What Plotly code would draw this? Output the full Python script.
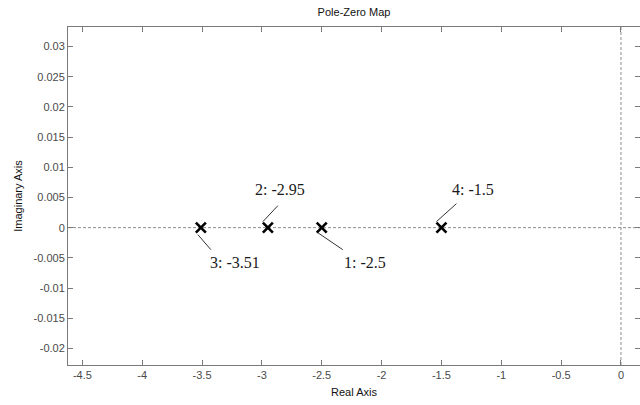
import plotly.graph_objects as go

# ---- data ----
pole_index = [1, 2, 3, 4]
pole_real = [-2.5, -2.95, -3.51, -1.5]
pole_imag = [0.0, 0.0, 0.0, 0.0]
x_tick_vals = [-4.5, -4, -3.5, -3, -2.5, -2, -1.5, -1, -0.5, 0]
x_tick_text = ["-4.5", "-4", "-3.5", "-3", "-2.5", "-2", "-1.5", "-1", "-0.5", "0"]
y_tick_vals = [0.03, 0.025, 0.02, 0.015, 0.01, 0.005, 0, -0.005, -0.01, -0.015, -0.02]
y_tick_text = ["0.03", "0.025", "0.02", "0.015", "0.01", "0.005", "0", "-0.005", "-0.01", "-0.015", "-0.02"]
x_range = [-4.62, 0.159]
y_range = [-0.02276, 0.03325]

# ---- label placement (pixel offsets from each pole: line start, line end, text centre) ----
label_style = {
    1: dict(l0=(-4, -5), l1=(21, -22), txt=(43, -35)),
    2: dict(l0=(-5, 6), l1=(10, 22), txt=(12, 38)),
    3: dict(l0=(-3, -7), l1=(10, -22), txt=(34, -35)),
    4: dict(l0=(-5, 6), l1=(15, 24), txt=(32, 38)),
}

AX = "#7a7a7a"
TXT = "#4a4a4a"
SANS = "Liberation Sans, Arial, sans-serif"

fig = go.Figure()
fig.add_trace(go.Scatter(
    x=pole_real, y=pole_imag, mode="markers",
    marker=dict(symbol="x-thin", size=10, color="black",
                line=dict(width=2.6, color="black")),
    showlegend=False, hoverinfo="x+y",
))

shapes = [
    dict(type="line", xref="x domain", yref="y", x0=0, x1=1, y0=0, y1=0,
         line=dict(color="#8c8c8c", width=1, dash="3px,2px"), layer="below"),
    dict(type="line", xref="x", yref="y domain", x0=0, x1=0, y0=0, y1=1,
         line=dict(color="#8c8c8c", width=1, dash="3px,2px"), layer="below"),
]
annotations = []
for idx, xr, yi in zip(pole_index, pole_real, pole_imag):
    st = label_style[idx]
    shapes.append(dict(
        type="line", xref="x", yref="y",
        xsizemode="pixel", xanchor=xr, x0=st["l0"][0], x1=st["l1"][0],
        ysizemode="pixel", yanchor=yi, y0=st["l0"][1], y1=st["l1"][1],
        line=dict(color="#333333", width=1),
    ))
    annotations.append(dict(
        x=xr, y=yi, xref="x", yref="y",
        text=f"{idx}: {xr:g}", showarrow=True, arrowcolor="rgba(0,0,0,0)",
        ax=st["txt"][0], ay=-st["txt"][1], axref="pixel", ayref="pixel",
        font=dict(family="Liberation Serif, Times New Roman, serif", size=16, color="#1a1a1a"),
        xanchor="center", yanchor="middle",
    ))

fig.update_layout(
    width=640, height=405,
    margin=dict(l=68, r=0, t=27, b=40),
    paper_bgcolor="white", plot_bgcolor="white",
    title=dict(text="Pole-Zero Map", x=(68 + 640) / 2 / 640, xanchor="center",
               y=1 - 12 / 405, yanchor="middle", yref="container",
               font=dict(family=SANS, size=11, color="#111111")),
    shapes=shapes, annotations=annotations,
    font=dict(family=SANS, size=11, color=TXT),
)
fig.update_xaxes(
    range=x_range, tickvals=x_tick_vals, ticktext=x_tick_text,
    showgrid=False, zeroline=False, showline=True, linecolor=AX, linewidth=1,
    mirror="ticks", ticks="inside", ticklen=5, tickcolor=AX,
    title=dict(text="Real Axis", font=dict(family=SANS, size=11, color="#111111"), standoff=8),
    tickfont=dict(family=SANS, size=11, color=TXT),
)
fig.update_yaxes(
    range=y_range, tickvals=y_tick_vals, ticktext=y_tick_text,
    showgrid=False, zeroline=False, showline=True, linecolor=AX, linewidth=1,
    mirror="ticks", ticks="inside", ticklen=5, tickcolor=AX,
    title=dict(text="Imaginary Axis", font=dict(family=SANS, size=11, color="#111111"), standoff=8),
    tickfont=dict(family=SANS, size=11, color=TXT),
)

fig.write_html(
    "out.html",
    config={"displayModeBar": False},
    post_script="document.body.style.margin='0';document.body.style.overflow='hidden';",
)
